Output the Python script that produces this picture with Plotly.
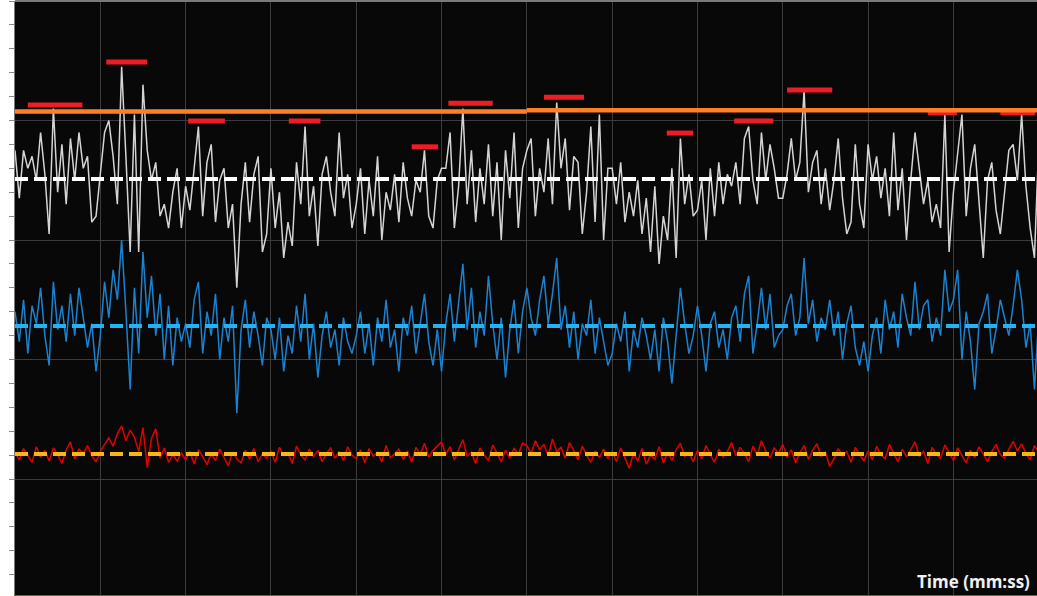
import plotly.graph_objects as go

# ---- data (time in seconds, values in chart units) ----
STEP = 0.5
white_vals = [
    75, 67, 75, 72, 74, 70, 78, 71, 61, 82, 68, 76, 66, 77, 70, 78, 72, 74, 63, 64,
    71, 78, 80, 74, 66, 89, 74, 58, 81, 58, 86, 75, 70, 73, 64, 66, 62, 68, 72, 62,
    69, 65, 72, 79, 64, 73, 76, 63, 70, 72, 62, 66, 52, 66, 73, 63, 71, 74, 58, 61,
    72, 62, 68, 57, 63, 59, 73, 66, 79, 64, 69, 59, 71, 74, 68, 64, 78, 67, 71, 62,
    66, 72, 61, 70, 64, 74, 60, 68, 65, 71, 63, 73, 67, 64, 70, 68, 75, 64, 62, 70,
    72, 72, 78, 62, 69, 82, 66, 75, 63, 72, 66, 76, 64, 73, 60, 75, 67, 78, 62, 72,
    75, 77, 64, 72, 68, 77, 66, 83, 72, 77, 65, 74, 73, 61, 68, 79, 63, 81, 60, 72,
    72, 66, 73, 63, 68, 64, 70, 61, 67, 58, 69, 56, 64, 60, 72, 57, 77, 66, 71, 64,
    65, 70, 60, 72, 64, 73, 66, 71, 69, 73, 66, 77, 79, 70, 66, 78, 70, 76, 72, 67,
    67, 71, 77, 70, 73, 85, 68, 73, 75, 66, 72, 65, 70, 77, 67, 61, 63, 76, 66, 62,
    76, 70, 74, 67, 72, 64, 78, 65, 72, 60, 70, 78, 72, 66, 70, 63, 66, 62, 81, 58,
    68, 74, 81, 64, 72, 76, 66, 57, 70, 73, 65, 61, 68, 75, 76, 70, 81, 69, 62, 57, 76,
]
blue_vals = [
    48, 43, 50, 41, 49, 46, 52, 44, 39, 53, 45, 49, 43, 51, 44, 52, 47, 42, 46, 38,
    44, 53, 47, 55, 50, 60, 48, 35, 52, 41, 58, 47, 54, 44, 51, 40, 49, 39, 47, 43,
    46, 42, 50, 53, 41, 48, 44, 51, 40, 47, 43, 49, 31, 45, 50, 42, 48, 44, 39, 47,
    45, 40, 47, 38, 44, 41, 49, 43, 51, 40, 46, 37, 44, 48, 42, 45, 39, 47, 43, 41,
    44, 48, 41, 46, 39, 47, 43, 50, 42, 45, 38, 47, 44, 49, 41, 46, 51, 43, 39, 45,
    38, 46, 51, 43, 49, 56, 45, 52, 42, 48, 44, 54, 46, 40, 47, 37, 45, 50, 41, 48,
    52, 47, 44, 50, 54, 46, 51, 57, 45, 49, 42, 48, 40, 46, 44, 50, 41, 47, 43, 39,
    41, 46, 43, 48, 38, 45, 42, 47, 44, 40, 45, 38, 47, 43, 36, 44, 52, 46, 41, 44,
    49, 44, 38, 46, 48, 42, 45, 40, 47, 49, 43, 51, 54, 41, 46, 52, 45, 51, 42, 44,
    45, 49, 51, 44, 47, 57, 46, 50, 43, 47, 45, 50, 44, 48, 40, 46, 49, 42, 39, 43,
    38, 44, 47, 41, 50, 45, 48, 42, 51, 47, 44, 53, 45, 49, 50, 43, 47, 44, 55, 48,
    50, 55, 40, 48, 43, 35, 46, 48, 51, 41, 45, 50, 47, 44, 49, 55, 50, 42, 46, 35, 47,
]
red_vals = [
    24.5, 23.2, 25.1, 24.0, 22.8, 25.4, 23.6, 24.8, 23.0, 25.2, 24.1, 22.6, 24.9, 26.2, 23.4, 25.0, 24.3, 25.6, 23.9, 22.9,
    24.6, 25.8, 26.9, 25.5, 27.6, 28.9, 26.4, 28.2, 27.0, 24.6, 28.6, 21.9, 26.8, 28.4, 23.5, 25.2, 22.8, 24.1, 23.0, 24.4,
    23.2, 24.6, 22.5, 24.9, 23.8, 22.4, 24.3, 23.1, 25.0, 23.6, 22.2, 24.5, 23.4, 22.7, 24.8, 23.3, 25.1, 22.9, 24.2, 23.5,
    24.7, 22.8, 25.3, 23.9, 24.4, 22.6, 25.5, 24.0, 23.2, 25.0, 23.7, 24.8, 22.9, 24.3, 25.2, 23.5, 24.6, 23.1, 25.4, 24.0,
    23.4, 24.9, 22.7, 25.1, 23.8, 24.5, 22.9, 25.6, 23.6, 24.2, 25.0, 23.3, 24.7, 22.8, 25.3, 24.1, 26.0, 23.7, 24.8, 25.5,
    26.2, 24.1, 25.4, 23.2, 24.9, 26.6, 23.8, 24.5, 22.6, 25.2, 24.0, 23.1, 25.7, 24.4, 22.9, 24.8, 23.5, 25.1, 24.2, 26.0,
    25.6, 24.3, 26.4, 24.9, 25.8, 23.9, 26.7, 24.6, 25.3, 23.5, 26.1, 24.8, 23.2, 25.5, 24.0, 22.8, 24.7, 23.6, 25.0, 23.4,
    24.6, 22.9, 25.2, 23.5, 21.8, 24.3, 23.0, 25.1, 22.5, 24.0, 23.3, 25.4, 22.7, 24.5, 23.1, 24.9, 26.0, 23.8, 24.4, 22.9,
    24.8, 23.4, 25.6, 24.1, 22.8, 25.0, 23.7, 24.6, 26.1, 23.9, 25.3, 24.2, 22.9, 25.5, 24.0, 26.4, 24.7, 23.5, 25.2, 24.3,
    25.8, 23.6, 24.9, 22.7, 24.4, 25.6, 23.3, 24.8, 25.9, 23.8, 24.5, 22.1, 23.4, 25.1, 23.9, 24.6, 22.8, 25.3, 24.1, 23.0,
    24.7, 23.2, 25.5, 24.0, 23.4, 25.8, 24.3, 22.9, 25.0, 23.7, 24.9, 26.2, 23.8, 24.6, 22.6, 25.3, 24.1, 23.5, 25.7, 24.4,
    23.1, 25.2, 24.0, 22.7, 24.8, 23.6, 25.4, 24.2, 22.9, 24.6, 25.8, 24.1, 23.5, 25.0, 26.3, 24.7, 25.9, 24.3, 23.2, 25.6, 24.5,
]
times = [i * STEP for i in range(len(white_vals))]

white_mean = 70.2
blue_mean = 45.6
yellow_mean = 24.2

# orange threshold per minute: (start, end, value)
orange_start = [0, 60]
orange_end = [60, 120]
orange_value = [81.5, 81.7]

# red peak markers: (start, end, value)
peak_start = [1.5, 10.7, 20.3, 32.1, 46.5, 50.8, 62.0, 76.4, 84.3, 90.5, 107.0, 115.5]
peak_end = [7.9, 15.5, 24.6, 35.8, 49.6, 56.0, 66.7, 79.5, 88.9, 95.8, 110.4, 119.6]
peak_value = [82.6, 89.8, 79.9, 79.9, 75.6, 82.9, 83.9, 77.9, 79.9, 85.1, 81.3, 81.3]

X_RANGE = [0, 119.8]
Y_RANGE = [0.59, 100]

fig = go.Figure()

fig.add_trace(go.Scatter(x=times, y=white_vals, mode="lines",
                         line=dict(color="#d4d4d4", width=1.5)))
fig.add_trace(go.Scatter(x=times, y=blue_vals, mode="lines",
                         line=dict(color="#1b82d0", width=1.5)))
fig.add_trace(go.Scatter(x=times, y=red_vals, mode="lines",
                         line=dict(color="#e00000", width=1.5)))

for val, col in [(white_mean, "#ffffff"), (blue_mean, "#25b2f0"), (yellow_mean, "#f8b814")]:
    fig.add_trace(go.Scatter(x=[0, 120], y=[val, val], mode="lines",
                             line=dict(color=col, width=4, dash="13px,6px")))

for s, e, v in zip(peak_start, peak_end, peak_value):
    fig.add_trace(go.Scatter(x=[s, e], y=[v, v], mode="lines",
                             line=dict(color="#ee1c24", width=5)))

for s, e, v in zip(orange_start, orange_end, orange_value):
    fig.add_trace(go.Scatter(x=[s, e], y=[v, v], mode="lines",
                             line=dict(color="#ff7f27", width=4.5)))

fig.update_layout(
    width=1037, height=596,
    margin=dict(l=15, r=0, t=1, b=1),
    paper_bgcolor="#ffffff",
    plot_bgcolor="#080808",
    showlegend=False,
    xaxis=dict(range=X_RANGE, dtick=10, tick0=0, showgrid=True, gridcolor="#3c3c3c",
               gridwidth=1, zeroline=False, showticklabels=False, ticks="",
               showline=True, linecolor="#5f6e22", linewidth=2),
    yaxis=dict(range=Y_RANGE, dtick=20, tick0=0, showgrid=True, gridcolor="#3c3c3c",
               gridwidth=1, zeroline=False, showticklabels=False,
               ticks="outside", ticklen=5, tickcolor="#8a8a8a", tickwidth=1,
               minor=dict(dtick=4, ticks="outside", ticklen=5, tickcolor="#8a8a8a",
                          showgrid=False),
               showline=True, linecolor="#7a7a7a", linewidth=1),
    shapes=[dict(type="line", xref="paper", yref="paper", x0=0, x1=1, y0=1, y1=1,
                 line=dict(color="#7a7a7a", width=2), layer="above")],
    annotations=[dict(text="<b>Time (mm:ss)</b>", xref="paper", yref="paper",
                      x=1, y=0, xanchor="right", yanchor="bottom", xshift=-5, yshift=0,
                      showarrow=False,
                      font=dict(family="Open Sans, DejaVu Sans, sans-serif", size=17,
                                color="#f0f0f0"))],
)

fig.write_html(
    "out.html",
    config={"displayModeBar": False},
    post_script="document.body.style.margin='0';document.body.style.padding='0';"
                "document.body.style.overflow='hidden';",
)
